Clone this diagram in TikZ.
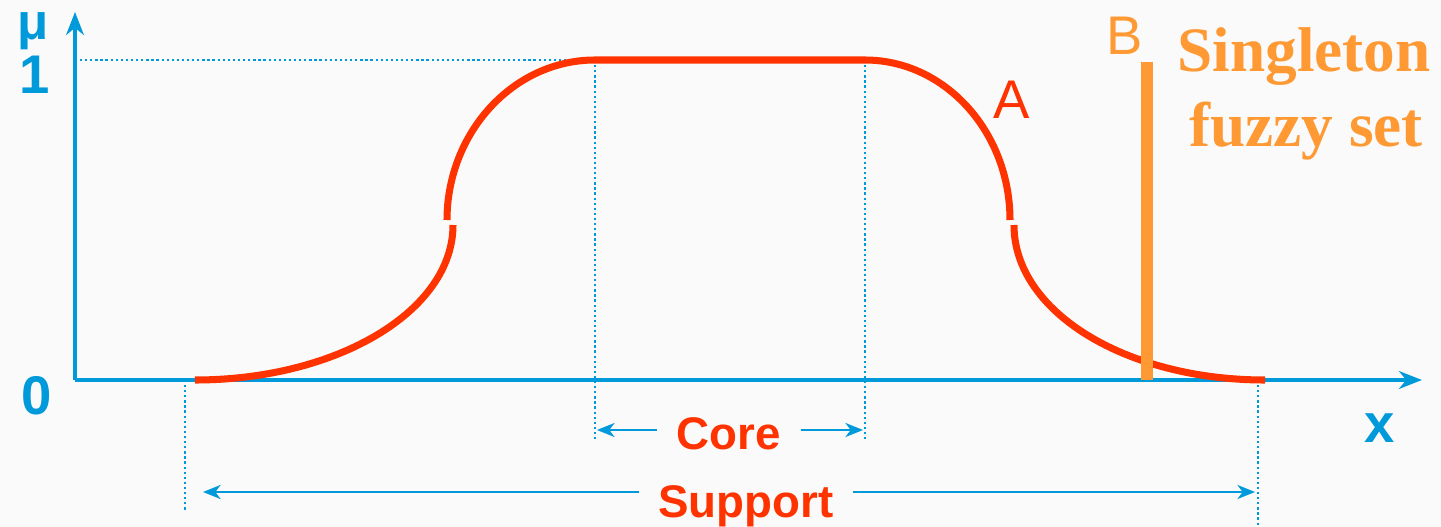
\documentclass[tikz,border=0pt]{standalone}
\usepackage{fontspec}
\setmainfont{Liberation Serif}
\setsansfont{Liberation Sans}
\usetikzlibrary{arrows.meta}

\definecolor{axisblue}{RGB}{0,153,218}
\definecolor{membred}{RGB}{255,51,0}
\definecolor{singorange}{RGB}{255,153,51}

\tikzset{
  axisline/.style={draw=axisblue, line width=2.3pt, -{Stealth[length=13pt,width=10pt,inset=4pt]}},
  guide/.style={draw=axisblue, line width=1.6pt, dash pattern=on 1.3pt off 1.6pt},
  span/.style={draw=axisblue, line width=1.3pt, -{Stealth[length=10pt,width=8pt,inset=3pt]}},
  memb/.style={draw=membred, line width=4pt},
  axislabel/.style={text=axisblue, font=\sffamily\bfseries\fontsize{31}{31}\selectfont},
  spanlabel/.style={text=membred, anchor=base, font=\sffamily\bfseries\fontsize{26}{26}\selectfont},
  setlabel/.style={font=\sffamily\fontsize{31}{31}\selectfont},
  singlabel/.style={text=singorange, anchor=base, font=\rmfamily\bfseries\fontsize{36}{36}\selectfont},
}

\begin{document}
\begin{tikzpicture}[x=0.02cm,y=-0.02cm]
\fill[white!98!black] (0,0) rectangle (1441,527);
\useasboundingbox (0,0) rectangle (1441,527);

% axes
\coordinate (origin) at (75,380);
\coordinate (ytop) at (75,12);
\coordinate (xend) at (1422,380);
\draw[axisline] (origin) -- (ytop);
\draw[axisline] (origin) -- (xend);

\node[axislabel, font=\sffamily\bfseries\fontsize{29}{29}\selectfont] (mu) at (33,31) {μ};
\node[axislabel] (one) at (35,75) {1};
\node[axislabel] (zero) at (37,396) {0};
\node[axislabel] (xlab) at (1380,428) {x};

% guides
\coordinate (top1) at (80,60);
\coordinate (coreA) at (595,60);
\coordinate (coreB) at (865,60);
\coordinate (coreAlow) at (595,442);
\coordinate (coreBlow) at (865,442);
\coordinate (suppA) at (185,385);
\coordinate (suppB) at (1258,385);
\coordinate (suppAlow) at (185,510);
\coordinate (suppBlow) at (1258,527);
\draw[guide] (top1) -- (coreA);
\draw[guide] (coreA) -- (coreAlow);
\draw[guide] (coreB) -- (coreBlow);
\draw[guide] (suppA) -- (suppAlow);
\draw[guide] (suppB) -- (suppBlow);

% fuzzy set A
\draw[memb] (195,380) .. controls (337,380) and (453,311) .. (453,225);
\draw[memb] (447,220) .. controls (447,133) and (513,60) .. (coreA) -- (coreB)
  .. controls (945,60) and (1010,132) .. (1010,220);
\draw[memb] (1014,225) .. controls (1014,312) and (1126,380) .. (1265,380);
\node[setlabel, text=membred] (Alab) at (1012,100) {A};

% singleton B
\coordinate (singtop) at (1147,62);
\coordinate (singbot) at (1147,380);
\draw[draw=singorange, line width=6.8pt] (singbot) -- (singtop);
\node[setlabel, text=singorange] (Blab) at (1125,36) {B};
\node[singlabel] (sing1) at (1304,72) {Singleton};
\node[singlabel] (sing2) at (1306,147) {fuzzy set};

% core and support
\node[spanlabel, inner sep=0pt] (core) at (729,449) {Core};
\node[spanlabel, inner sep=0pt] (supp) at (746,517) {Support};
\coordinate (coreL) at (597,430);
\coordinate (coreR) at (863,430);
\coordinate (suppL) at (203,492);
\coordinate (suppR) at (1255,492);
\draw[span, shorten <=11pt] (core.west |- coreL) -- (coreL);
\draw[span, shorten <=11pt] (core.east |- coreR) -- (coreR);
\draw[span, shorten <=11pt] (supp.west |- suppL) -- (suppL);
\draw[span, shorten <=11pt] (supp.east |- suppR) -- (suppR);
\end{tikzpicture}
\end{document}
